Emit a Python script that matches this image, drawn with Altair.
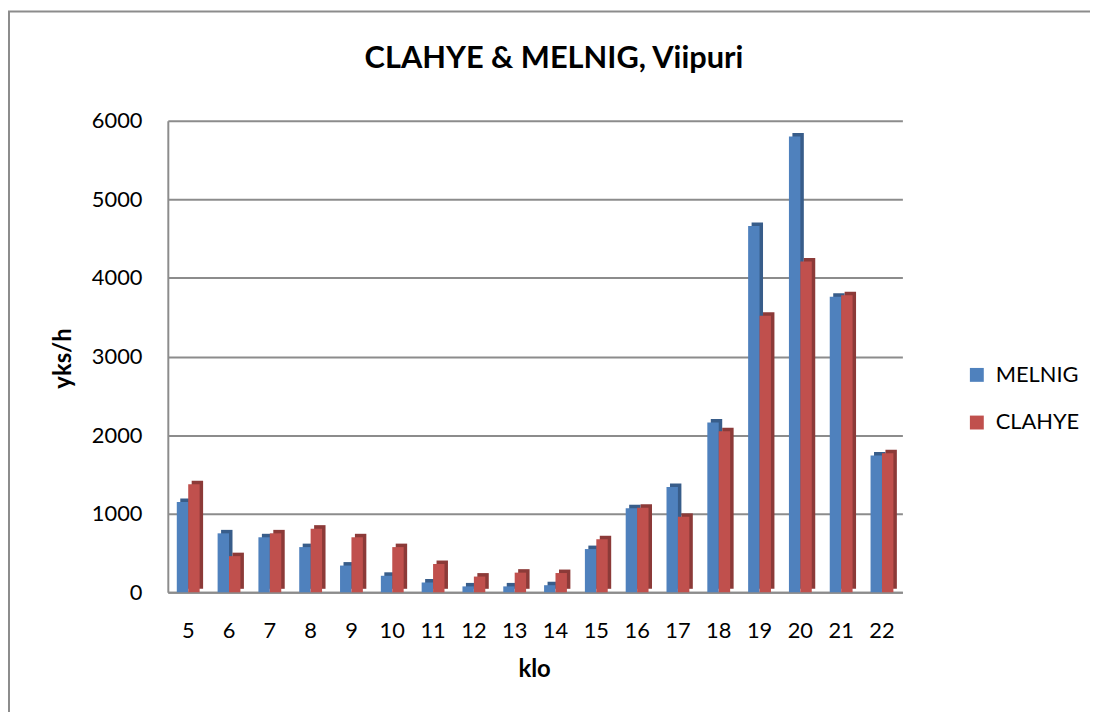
import altair as alt
import pandas as pd

hours = [5, 6, 7, 8, 9, 10, 11, 12, 13, 14, 15, 16, 17, 18, 19, 20, 21, 22]
melnig = [1150, 750, 700, 575, 340, 210, 125, 75, 75, 90, 550, 1070, 1340, 2160, 4660, 5800, 3760, 1740]
clahye = [1375, 460, 750, 810, 700, 575, 360, 200, 250, 245, 675, 1075, 960, 2050, 3520, 4210, 3780, 1770]
series_names = ["MELNIG", "CLAHYE"]
front_colors = ["#4F81BD", "#C0504D"]
side_colors = ["#385D8A", "#8C3A38"]
y_ticks = [0, 1000, 2000, 3000, 4000, 5000, 6000]

rows = []
for h, m, c in zip(hours, melnig, clahye):
    rows.append({"klo": h, "series": "MELNIG", "value": m})
    rows.append({"klo": h, "series": "CLAHYE", "value": c})
df = pd.DataFrame(rows)

FONT = "Lato"

x_enc = alt.X(
    "klo:O",
    scale=alt.Scale(paddingInner=0.44, paddingOuter=0.22),
    axis=alt.Axis(
        title="klo", labelAngle=0, labelFont=FONT, labelFontSize=22, labelColor="black",
        labelPadding=29, ticks=False, domainColor="#8c8c8c", domainWidth=2,
        titleFont=FONT, titleFontSize=24, titleFontWeight="bold", titleColor="black",
        titleX=369, titleY=78, titleBaseline="middle", titleAlign="center",
    ),
)
y_enc = alt.Y(
    "value:Q",
    scale=alt.Scale(domain=[0, 6000], nice=False),
    axis=alt.Axis(
        title="yks/h", values=y_ticks, format="d", labelFont=FONT, labelFontSize=22, labelColor="black",
        labelPadding=26, ticks=False, domainColor="#8c8c8c", domainWidth=2,
        gridColor="#8c8c8c", gridWidth=2,
        titleFont=FONT, titleFontSize=24, titleFontWeight="bold", titleColor="black",
        titleX=-105, titleY=239, titleBaseline="middle", titleAlign="center",
    ),
)

base = alt.Chart(df)

side = base.mark_bar(yOffset=-3.5).encode(
    x=x_enc, y=y_enc,
    xOffset=alt.XOffset("series:N", sort=series_names,
                        scale=alt.Scale(domain=series_names, range=[3.5, 26.5], paddingInner=0, paddingOuter=0)),
    color=alt.Color("series:N", scale=alt.Scale(domain=series_names, range=side_colors), legend=None),
)

front = base.mark_bar().encode(
    x=x_enc, y=y_enc,
    xOffset=alt.XOffset("series:N", sort=series_names,
                        scale=alt.Scale(domain=series_names, range=[0, 23], paddingInner=0, paddingOuter=0)),
    color=alt.Color(
        "series:N",
        scale=alt.Scale(domain=series_names, range=front_colors),
        legend=alt.Legend(
            title=None, orient="none", legendX=804, legendY=245,
            symbolType="square", symbolSize=196, symbolStrokeWidth=0,
            labelFont=FONT, labelFontSize=22, labelColor="black", labelOffset=8,
            rowPadding=26,
        ),
    ),
)

frame = alt.Chart(pd.DataFrame({"a": [0]})).mark_rect(
    fill="transparent", stroke="#8c8c8c", strokeWidth=2
).encode(
    x=alt.value(-160), x2=alt.value(1000), y=alt.value(-110), y2=alt.value(800)
)

chart = alt.layer(frame, side, front).resolve_scale(color="independent", xOffset="independent").properties(
    width=740,
    height=475,
    background="white",
    title=alt.TitleParams(
        "CLAHYE & MELNIG, Viipuri", font=FONT, fontSize=31, fontWeight="bold", color="black",
        anchor="middle", frame="group", dx=19, offset=0, dy=65,
    ),
    autosize=alt.AutoSizeParams(type="none"),
    padding={"left": 161, "top": 111, "right": 189, "bottom": 118},
).configure_view(stroke=None)

chart.save("out.html", embed_options={"renderer": "svg", "actions": False})
